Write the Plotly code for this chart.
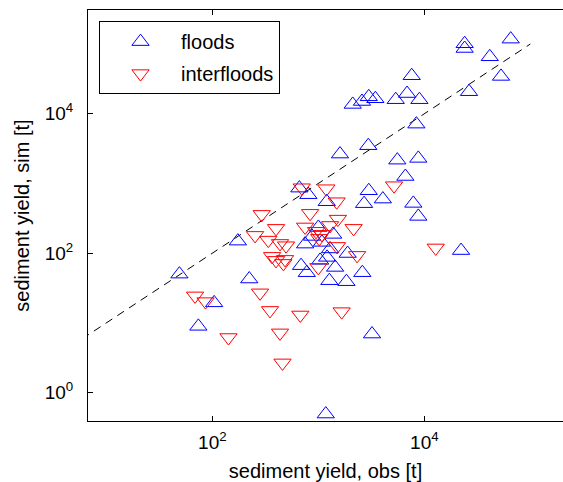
import plotly.graph_objects as go

# Observed vs simulated sediment yield [t]
obs_floods = [24000, 24000, 65300, 41400, 52900, 26400, 7600, 6870, 8980, 5370,
              3450, 2990, 2580, 2110, 8410, 2960, 1600, 5560, 8770, 6620,
              2990, 4060, 2700, 7870, 8770, 662, 805, 1200, 22200, 174,
              48.9, 223, 104, 73.8, 1175, 3210, 1890, 2600, 1840, 1270,
              1440, 687, 778, 1040, 1210, 1290, 750, 1000, 873, 1080, 1380]
sim_floods = [101000, 86300, 117500, 65600, 34300, 20700, 35100, 19500, 15900, 15900,
              16400, 17500, 15000, 13600, 7100, 3480, 2640, 2160, 2290, 1260,
              787, 597, 513, 518, 337, 857, 690, 547, 109, 149,
              50.1, 42.6, 19.4, 8.93, 0.493, 6.92, 99, 52.5, 39.0, 40.3,
              62.5, 66.2, 52.5, 78.9, 87.1, 115, 135, 234, 174, 143, 186]

obs_inter = [5180, 12800, 676, 1660, 459, 435, 142, 350, 282, 68.7,
             86.3, 697, 1190, 1490, 836, 1530, 2150, 750, 1290, 1080,
             951, 1020, 1500, 2320, 1000, 292, 399, 253, 337, 496,
             435, 366, 399, 468, 485]
sim_inter = [929, 119, 13.0, 14.5, 2.67, 7.19, 6.17, 15.1, 27.0, 24.4,
             20.2, 869, 841, 547, 373, 308, 227, 238, 250, 186,
             206, 163, 125, 93, 62.5, 360, 227, 180, 154, 128,
             138, 90, 78.9, 71.4, 81.5]

# 1:1 reference line
line_xy = [1, 1e5]

x_ticks = [1e2, 1e4]
x_ticktext = ["10<sup>2</sup>", "10<sup>4</sup>"]
y_ticks = [1e0, 1e2, 1e4]
y_ticktext = ["10<sup>0</sup>", "10<sup>2</sup>", "10<sup>4</sup>"]

font_family = "Liberation Sans, Arial, sans-serif"

fig = go.Figure()
fig.add_trace(go.Scatter(
    x=line_xy, y=line_xy, mode="lines", showlegend=False, hoverinfo="skip",
    line=dict(color="black", width=1, dash="8px,6px"),
))
fig.add_trace(go.Scatter(
    x=obs_floods, y=sim_floods, mode="markers", name="floods", legendgroup="f",
    marker=dict(symbol="triangle-up-open", size=15, color="#0000ff",
                line=dict(color="#0000ff", width=1)),
))
fig.add_trace(go.Scatter(
    x=obs_inter, y=sim_inter, mode="markers", name="interfloods", legendgroup="i",
    marker=dict(symbol="triangle-down-open", size=15, color="#ff0000",
                line=dict(color="#ff0000", width=1)),
))

axis_common = dict(
    type="log", showgrid=False, zeroline=False, showline=True,
    linecolor="black", linewidth=1, ticks="inside", ticklen=5,
    tickcolor="black", tickwidth=1,
    tickfont=dict(family=font_family, size=19, color="black"),
)

fig.update_layout(
    width=563, height=482,
    margin=dict(l=88, r=0, t=10, b=61),
    paper_bgcolor="white", plot_bgcolor="white",
    font=dict(family=font_family, color="black"),
    xaxis=dict(
        axis_common, range=[0.827, 5.308], mirror="ticks",
        tickvals=x_ticks, ticktext=x_ticktext, ticklabelstandoff=4,
        title=dict(text="sediment yield, obs [t]", standoff=14,
                   font=dict(family=font_family, size=20, color="black")),
    ),
    yaxis=dict(
        axis_common, range=[-0.407, 5.488], mirror=False,
        tickvals=y_ticks, ticktext=y_ticktext, ticklabelstandoff=10,
        title=dict(text="sediment yield, sim [t]", standoff=9,
                   font=dict(family=font_family, size=20, color="black")),
    ),
    legend=dict(
        x=0.0232, y=0.973, xanchor="left", yanchor="top",
        bordercolor="black", borderwidth=1, bgcolor="white",
        font=dict(family=font_family, size=20, color="black"),
        itemwidth=71, tracegroupgap=3,
    ),
)

fig.write_html("out.html")
